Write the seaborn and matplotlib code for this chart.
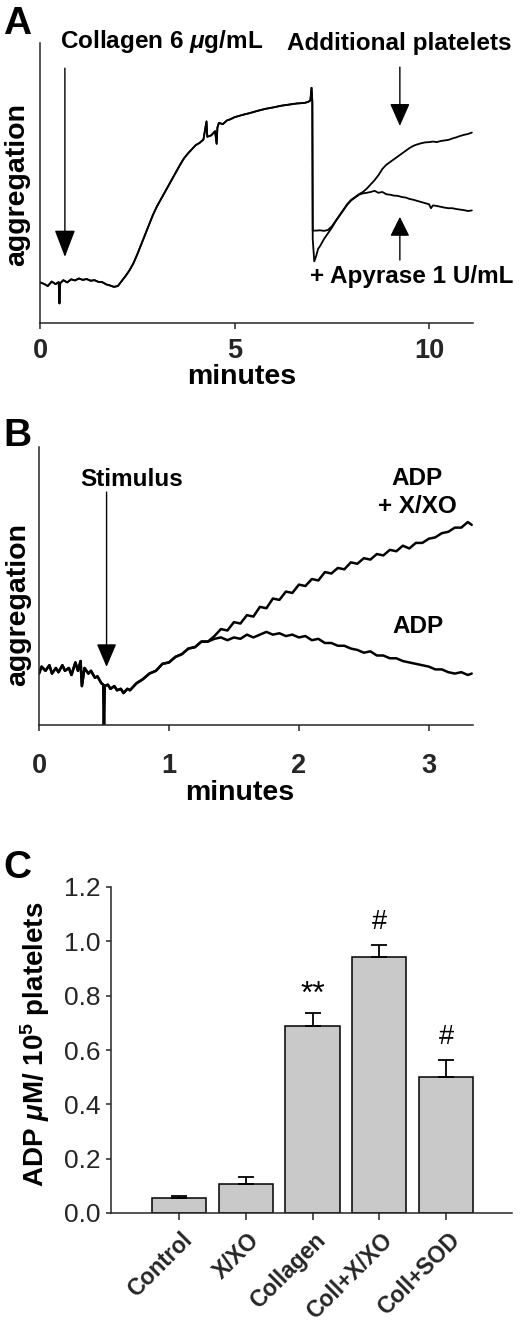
import matplotlib
matplotlib.use('Agg')
import pandas as pd
import seaborn as sns
import matplotlib.pyplot as plt
from matplotlib.transforms import ScaledTranslation

# Panel A: aggregation traces (arbitrary units, 0-100 = axis height)
a_pre_t = [0.0, 0.1, 0.2, 0.3, 0.4, 0.48, 0.5, 0.52, 0.6, 0.7, 0.8, 0.9, 1.0, 1.1, 1.2,
           1.3, 1.4, 1.5, 1.6, 1.7, 1.8, 1.9, 2.0, 2.1, 2.2, 2.3, 2.4, 2.5, 2.6, 2.7,
           2.8, 2.9, 3.0, 3.1, 3.2, 3.3, 3.4, 3.5, 3.6, 3.7, 3.8, 3.9, 4.0, 4.1, 4.2,
           4.28, 4.3, 4.4, 4.5, 4.54, 4.56, 4.6, 4.7, 4.8, 4.9, 5.0, 5.2, 5.4, 5.6, 5.8,
           6.0, 6.2, 6.4, 6.6, 6.8, 6.9, 6.95, 6.98, 7.0]
a_pre_v = [14.5, 14.0, 13.2, 14.8, 13.9, 14.6, 7.0, 14.2, 15.3, 14.5, 15.6, 15.2, 15.9, 15.4, 15.7,
           15.1, 15.3, 14.7, 14.6, 13.8, 13.4, 12.9, 13.2, 15.0, 16.8, 18.8, 21.3, 24.5, 28.0, 31.5,
           35.0, 38.5, 41.5, 44.0, 46.5, 49.0, 51.5, 54.0, 56.5, 58.8, 60.5, 62.0, 63.5, 64.3, 65.5,
           72.0, 66.5, 67.0, 68.5, 64.0, 69.8, 71.5, 71.0, 72.3, 72.8, 73.5, 74.3, 75.0, 75.8, 76.5,
           77.0, 77.6, 78.0, 78.4, 78.6, 79.0, 79.5, 84.0, 79.0]
a_plt_t = [7.01, 7.1, 7.2, 7.3, 7.4, 7.5, 7.6, 7.7, 7.8, 7.9, 8.0, 8.1, 8.2, 8.3, 8.4, 8.5,
           8.6, 8.7, 8.8, 8.9, 9.0, 9.1, 9.25, 9.4, 9.5, 9.6, 9.7, 9.8, 9.9, 10.0, 10.1,
           10.2, 10.3, 10.4, 10.5, 10.6, 10.7, 10.8, 10.9, 11.0, 11.1]
a_plt_v = [33.0, 33.0, 33.1, 32.9, 33.2, 34.5, 36.5, 38.5, 40.5, 42.5, 44.0, 45.0, 46.0, 46.8, 48.0, 49.5,
           51.0, 52.8, 55.0, 56.5, 57.5, 58.5, 60.0, 61.5, 62.5, 63.3, 63.8, 64.2, 64.5, 64.6, 64.8,
           64.6, 65.0, 65.2, 65.4, 65.9, 66.3, 66.8, 67.2, 67.5, 68.0]
a_apy_t = [7.01, 7.05, 7.1, 7.15, 7.2, 7.3, 7.4, 7.5, 7.6, 7.7, 7.8, 7.9, 8.0, 8.1, 8.2, 8.3,
           8.4, 8.5, 8.6, 8.7, 8.8, 8.9, 9.0, 9.1, 9.2, 9.3, 9.4, 9.5, 9.6, 9.7, 9.8, 9.9,
           10.0, 10.05, 10.1, 10.2, 10.3, 10.4, 10.5, 10.6, 10.7, 10.8, 10.9, 11.0, 11.1]
a_apy_v = [30.0, 22.0, 24.0, 26.5, 27.5, 30.0, 32.0, 34.0, 36.3, 38.3, 40.3, 42.3, 43.8, 44.8, 45.8, 46.3,
           46.5, 46.8, 47.2, 46.5, 46.8, 46.0, 45.8, 45.5, 45.4, 45.0, 44.8, 44.3, 44.0, 43.6, 43.2, 42.8,
           42.4, 41.0, 42.0, 41.8, 41.5, 41.2, 41.0, 41.0, 40.7, 40.5, 40.3, 40.0, 40.2]

# Panel B: ADP vs ADP + X/XO
b_pre_t = [0.0, 0.02, 0.05, 0.08, 0.1, 0.13, 0.15, 0.18, 0.2, 0.23, 0.25, 0.28, 0.3, 0.32, 0.33,
           0.35, 0.38, 0.4, 0.43, 0.45, 0.48, 0.495, 0.5, 0.505, 0.53, 0.55, 0.58, 0.6, 0.63,
           0.65, 0.68, 0.7, 0.73, 0.75, 0.8, 0.85, 0.9, 0.95, 1.0, 1.05, 1.1, 1.15, 1.2, 1.25, 1.3]
b_pre_v = [18.5, 21.0, 19.5, 21.5, 18.5, 20.5, 19.0, 21.5, 19.5, 20.5, 18.0, 22.5, 19.5, 23.0, 14.0,
           20.5, 18.5, 19.5, 17.0, 17.5, 15.0, 14.5, 0.0, 14.0, 14.5, 13.0, 14.0, 12.5, 13.0,
           11.5, 13.0, 12.5, 14.0, 15.0, 16.5, 18.5, 19.5, 22.0, 22.5, 24.5, 25.5, 27.5, 28.0, 30.0, 30.0]
b_xxo_t = [1.35, 1.4, 1.45, 1.5, 1.55, 1.6, 1.65, 1.7, 1.75, 1.8, 1.85, 1.9, 1.95, 2.0, 2.05,
           2.1, 2.15, 2.2, 2.25, 2.3, 2.35, 2.4, 2.45, 2.5, 2.55, 2.6, 2.65, 2.7, 2.75, 2.8,
           2.85, 2.9, 2.95, 3.0, 3.05, 3.1, 3.15, 3.2, 3.25, 3.3, 3.33]
b_xxo_v = [32.0, 34.5, 34.0, 37.0, 36.5, 39.5, 39.0, 42.5, 42.0, 45.5, 45.0, 48.0, 47.5, 50.5, 50.0,
           52.5, 52.0, 55.0, 54.5, 56.5, 56.0, 58.5, 58.0, 60.0, 59.5, 61.5, 61.0, 63.0, 62.5, 64.5,
           63.5, 65.5, 65.5, 67.0, 67.5, 69.0, 69.5, 71.0, 71.0, 73.0, 72.0]
b_adp_t = b_xxo_t
b_adp_v = [31.0, 31.5, 30.5, 31.5, 31.0, 32.5, 31.5, 32.5, 33.5, 32.5, 33.0, 32.0, 32.5, 31.5, 32.0,
           30.5, 31.0, 29.5, 29.5, 28.5, 28.5, 27.5, 27.0, 26.0, 26.5, 25.0, 25.0, 24.0, 24.0, 23.0,
           22.5, 22.0, 21.5, 21.0, 20.0, 20.0, 19.0, 18.5, 19.0, 18.0, 18.5]

# Panel C: ADP release
c_groups = ['Control', 'X/XO', 'Collagen', 'Coll+X/XO', 'Coll+SOD']
c_values = [0.054, 0.107, 0.687, 0.942, 0.501]
c_errors = [0.008, 0.024, 0.051, 0.046, 0.061]
c_marks = ['', '', '**', '#', '#']

sns.set_style('ticks')
plt.rcParams['font.family'] = ['Liberation Sans', 'DejaVu Sans']
plt.rcParams['mathtext.fontset'] = 'custom'
plt.rcParams['mathtext.rm'] = 'Liberation Sans:bold'
plt.rcParams['mathtext.it'] = 'Liberation Sans:italic:bold'
plt.rcParams['mathtext.bf'] = 'Liberation Sans:bold'

W, H = 520, 1322
fig = plt.figure(figsize=(W / 100, H / 100), dpi=100)


def px_axes(l, t, r, b):
    return fig.add_axes([l / W, 1 - b / H, (r - l) / W, (b - t) / H])


def trace_df(t1, v1, t2, v2):
    return pd.DataFrame({'minutes': t1 + t2, 'aggregation': v1 + v2})


def style_trace_axes(ax, ticks, xmax, pad):
    ax.set_xlim(0, xmax)
    ax.set_ylim(0, 100)
    ax.set_xticks(ticks)
    ax.set_xticklabels([str(t) for t in ticks], fontsize=19.5, fontweight='bold')
    ax.set_yticks([])
    ax.tick_params(axis='x', direction='out', length=4.5, width=1.1, pad=pad)
    for s in ['top', 'right']:
        ax.spines[s].set_visible(False)
    for s in ['left', 'bottom']:
        ax.spines[s].set_linewidth(1.1)
    ax.set_xlabel('')
    ax.set_ylabel('')


def arrow(ax, tail, tip, hl, hw):
    ax.annotate('', xy=tip, xytext=tail,
                arrowprops=dict(arrowstyle=f'-|>,head_length={hl},head_width={hw}',
                                lw=1.0, color='black', shrinkA=0, shrinkB=0))


bold = dict(fontweight='bold', color='black')
lbl_fs = 17.5

# ---- A ----
ax_a = px_axes(40, 43, 473, 323)
sns.lineplot(data=trace_df(a_pre_t, a_pre_v, a_plt_t, a_plt_v), x='minutes', y='aggregation',
             estimator=None, sort=False, color='black', lw=1.3, ax=ax_a)
sns.lineplot(data=trace_df(a_pre_t, a_pre_v, a_apy_t, a_apy_v), x='minutes', y='aggregation',
             estimator=None, sort=False, color='black', lw=1.3, ax=ax_a)
style_trace_axes(ax_a, [0, 5, 10], 11.13, 6)
arrow(ax_a, (0.64, 91), (0.64, 23.6), 1.7, 0.65)
arrow(ax_a, (9.25, 91.4), (9.25, 70.4), 1.4, 0.62)
arrow(ax_a, (9.25, 22.5), (9.25, 37.9), 1.2, 0.6)
ax_a.text(0.046, 0.982, r'Collagen 6 $\mu$g/mL', transform=ax_a.transAxes, fontsize=lbl_fs,
          ha='left', va='baseline', **bold)
ax_a.text(0.829, 0.975, 'Additional platelets', transform=ax_a.transAxes, fontsize=lbl_fs,
          ha='center', va='baseline', **bold)
ax_a.text(0.858, 0.143, '+ Apyrase 1 U/mL', transform=ax_a.transAxes, fontsize=lbl_fs,
          ha='center', va='baseline', **bold)
fig.text(3 / W, 1 - 6 / H, 'A', fontsize=28, ha='left', va='top', **bold)
fig.text(17 / W, 1 - 185 / H, 'aggregation', fontsize=20.5, rotation=90, ha='center', va='center', **bold)
fig.text(242 / W, 1 - 377 / H, 'minutes', fontsize=20.5, ha='center', va='center', **bold)

# ---- B ----
ax_b = px_axes(39, 447, 473, 725)
sns.lineplot(data=trace_df(b_pre_t, b_pre_v, b_xxo_t, b_xxo_v), x='minutes', y='aggregation',
             estimator=None, sort=False, color='black', lw=1.8, ax=ax_b)
sns.lineplot(data=trace_df(b_pre_t, b_pre_v, b_adp_t, b_adp_v), x='minutes', y='aggregation',
             estimator=None, sort=False, color='black', lw=1.8, ax=ax_b)
style_trace_axes(ax_b, [0, 1, 2, 3], 3.34, 16)
arrow(ax_b, (0.52, 83.8), (0.52, 20.9), 1.45, 0.62)
ax_b.text(0.214, 0.86, 'Stimulus', transform=ax_b.transAxes, fontsize=lbl_fs,
          ha='center', va='baseline', **bold)
ax_b.text(0.871, 0.863, 'ADP', transform=ax_b.transAxes, fontsize=lbl_fs,
          ha='center', va='baseline', **bold)
ax_b.text(0.871, 0.761, '+ X/XO', transform=ax_b.transAxes, fontsize=lbl_fs,
          ha='center', va='baseline', **bold)
ax_b.text(0.873, 0.33, 'ADP', transform=ax_b.transAxes, fontsize=lbl_fs,
          ha='center', va='baseline', **bold)
fig.text(3 / W, 1 - 418 / H, 'B', fontsize=28, ha='left', va='top', **bold)
fig.text(18 / W, 1 - 605 / H, 'aggregation', fontsize=20.5, rotation=90, ha='center', va='center', **bold)
fig.text(240 / W, 1 - 793 / H, 'minutes', fontsize=20.5, ha='center', va='center', **bold)

# ---- C ----
ax_c = px_axes(111, 887, 512, 1213)
sns.barplot(x=c_groups, y=c_values, color='#c9c9c9', saturation=1, edgecolor='black',
            linewidth=1.1, width=0.81, ax=ax_c)
xs = list(range(len(c_groups)))
ax_c.errorbar(xs, c_values, yerr=[[0] * len(c_errors), c_errors], fmt='none', ecolor='black',
              elinewidth=1.3, capsize=5.5, capthick=1.3, zorder=3)
for x, v, e, m in zip(xs, c_values, c_errors, c_marks):
    if m == '**':
        ax_c.text(x, v + e + 0.065, m, ha='center', va='center', fontsize=23, color='black')
    elif m:
        ax_c.text(x, v + e + 0.085, m, ha='center', va='center', fontsize=19.5, color='black')
ax_c.set_xlim(-1.02, 4.99)
ax_c.set_ylim(0, 1.2)
ax_c.set_yticks([0.0, 0.2, 0.4, 0.6, 0.8, 1.0, 1.2])
ax_c.set_yticklabels([f'{t:.1f}' for t in [0.0, 0.2, 0.4, 0.6, 0.8, 1.0, 1.2]], fontsize=19)
ax_c.set_xticks(xs)
ax_c.set_xticklabels(c_groups, fontsize=16.5, fontweight='bold', rotation=45,
                     ha='right', va='center', rotation_mode='anchor')
ax_c.tick_params(axis='x', direction='out', length=5, width=1.1, pad=12)
ax_c.tick_params(axis='y', direction='out', length=3.5, width=1.1, pad=4)
shift = ScaledTranslation(10 / 100, 0, fig.dpi_scale_trans)
for lbl in ax_c.get_xticklabels():
    lbl.set_transform(lbl.get_transform() + shift)
for s in ['top', 'right']:
    ax_c.spines[s].set_visible(False)
for s in ['left', 'bottom']:
    ax_c.spines[s].set_linewidth(1.1)
fig.text(3 / W, 1 - 850 / H, 'C', fontsize=28, ha='left', va='top', **bold)
fig.text(35 / W, 1 - 1044 / H, r'ADP $\mu$M/ 10$^5$ platelets', fontsize=20, rotation=90,
         ha='center', va='center', **bold)

fig.savefig('out.png', dpi=100)
